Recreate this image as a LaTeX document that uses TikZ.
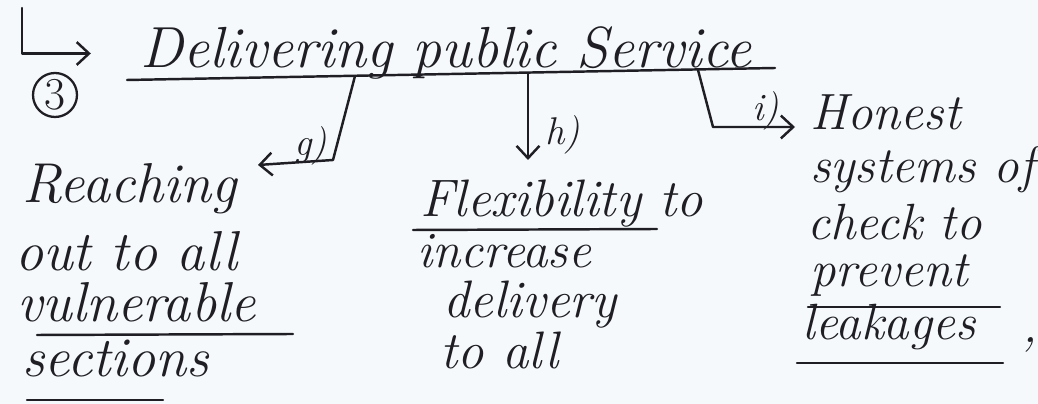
\documentclass[tikz,border=0pt]{standalone}
\usetikzlibrary{arrows.meta}
\definecolor{ink}{HTML}{1E1E24}
\definecolor{paper}{HTML}{F6F9FB}

\begin{document}
\begin{tikzpicture}
[x=0.02cm,y=-0.02cm,
every node/.style={text=ink,inner sep=0pt,font=\fontsize{30}{34}\selectfont\itshape},
pen/.style={draw=ink,line width=1.4pt,line cap=round,line join=round},
tip/.style={-{Straight Barb[length=7pt,width=13pt,line width=1.4pt]}},
lbl/.style={font=\fontsize{22}{24}\selectfont\itshape},
item/.style={anchor=base west},
big/.style={font=\fontsize{32}{36}\selectfont\itshape},
]
\fill[paper] (0,0) rectangle (1038,404);
\useasboundingbox (0,0) rectangle (1038,404);

% heading
\node[item,font=\fontsize{33}{36}\selectfont\itshape] (title) at (140,68) {Delivering public Service};
\node[circle,pen,line width=1.3pt,minimum size=0.88cm,font=\fontsize{26}{28}\selectfont] (num) at (55,95) {3};
\coordinate (top) at (22,8);
\draw[pen,tip] (top) |- ([xshift=-28]title.west);
\coordinate (barl) at (127,80);
\coordinate (barr) at (775,68);
\draw[pen] (barl) -- (barr);

% g)
\node[item,big] (g1) at (22,203) {Reaching};
\node[item,big] (g2) at (15,271) {out to all};
\node[item,big] (g3) at (17,322) {vulnerable};
\node[item,big] (g4) at (22,377) {sections};
\draw[pen] (37,335) -- (293,334);
\draw[pen] (27,400) -- (163,400);
\coordinate (gtop) at (355,76);
\coordinate (gend) at (258,165);
\draw[pen,tip] (gtop) -- (333,160) -- (gend);
\node[item,lbl] (gl) at (294,156) {g)};

% h)
\node[item] (h1) at (420,217) {Flexibility to};
\node[item,font=\fontsize{29}{32}\selectfont\itshape] (h2) at (417,268) {increase};
\node[item] (h3) at (443,318) {delivery};
\node[item] (h4) at (440,369) {to all};
\draw[pen] (413,230) -- (657,229);
\coordinate (htop) at (528,73);
\coordinate (hend) at (528,160);
\draw[pen,tip] (htop) -- (hend);
\node[item,lbl] (hl) at (545,145) {h)};

% i)
\begin{scope}[every node/.append style={font=\fontsize{29}{32}\selectfont\itshape}]
\node[item] (i1) at (810,130) {Honest};
\node[item] (i2) at (810,183) {systems of};
\node[item] (i3) at (807,240) {check to};
\node[item] (i4) at (810,287) {prevent};
\node[item] (i5) at (802,340) {leakages};
\node (stop) at (1030,345) {,};
\end{scope}
\draw[pen] (808,307) -- (1000,307);
\draw[pen] (797,363) -- (1003,363);
\coordinate (itop) at (698,70);
\coordinate (iend) at (795,127);
\draw[pen,tip] (itop) -- (713,127) -- (iend);
\node[item,lbl] (il) at (752,121) {i)};
\end{tikzpicture}
\end{document}
